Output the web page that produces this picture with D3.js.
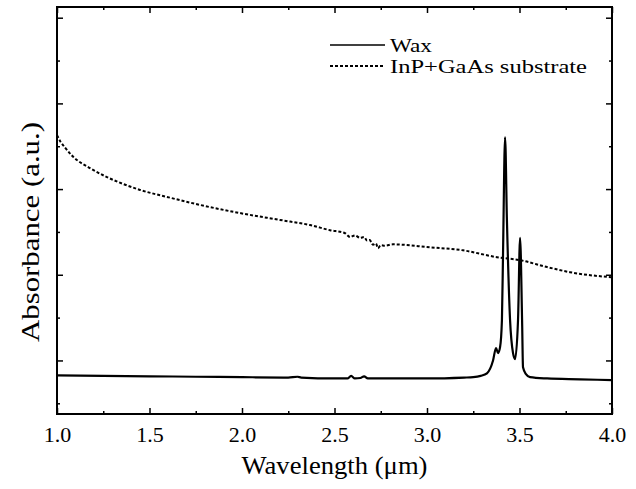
<!DOCTYPE html>
<html>
<head>
<meta charset="utf-8">
<script src="https://cdn.jsdelivr.net/npm/d3@7"></script>
<style>
  body { margin: 0; background: #fff; }
  svg { display: block; }
</style>
</head>
<body>
<div id="chart"></div>
<script>
// values (arbitrary absorbance units, one y tick = 1)
const waxLambda = [1.0, 1.25, 1.5, 1.75, 2.0, 2.25, 2.3, 2.32, 2.5, 2.57, 2.59, 2.61, 2.64, 2.66, 2.68, 2.75, 3.0, 3.2, 3.25,
  3.29, 3.324, 3.357, 3.373, 3.384, 3.395, 3.405, 3.411, 3.422, 3.432, 3.449, 3.465, 3.476, 3.492, 3.503, 3.514, 3.519,
  3.535, 3.557, 3.649, 3.827, 4.0];
const waxAbs = [0.65, 0.64, 0.63, 0.62, 0.61, 0.6, 0.62, 0.6, 0.58, 0.58, 0.64, 0.58, 0.59, 0.63, 0.58, 0.58, 0.58, 0.6, 0.61,
  0.64, 0.70, 1.0, 1.29, 1.17, 1.31, 1.94, 3.5, 6.21, 4.28, 1.94, 1.17, 1.03, 1.94, 3.86, 1.94, 0.84,
  0.68, 0.61, 0.58, 0.56, 0.54];

const subLambda = [1.0, 1.02, 1.043, 1.086, 1.178, 1.27, 1.357, 1.449, 1.61, 1.773, 1.989, 2.205, 2.368, 2.476, 2.557,
  2.584, 2.611, 2.638, 2.66, 2.676, 2.69, 2.708, 2.724, 2.735, 2.75, 2.773, 2.816, 3.016, 3.195, 3.378, 3.503,
  3.649, 3.773, 4.0];
const subAbs = [6.26, 6.1, 5.97, 5.76, 5.49, 5.28, 5.12, 4.98, 4.8, 4.63, 4.44, 4.28, 4.16, 4.04, 3.97,
  3.88, 3.92, 3.86, 3.88, 3.8, 3.81, 3.7, 3.73, 3.62, 3.69, 3.68, 3.71, 3.64, 3.57, 3.41, 3.34,
  3.18, 3.06, 2.94];

const xTicks = [1.0, 1.5, 2.0, 2.5, 3.0, 3.5, 4.0];
const legendLabels = ["Wax", "InP+GaAs substrate"];

const serif = "'Liberation Serif', 'Times New Roman', 'DejaVu Serif', serif";
const width = 636, height = 489;
const margin = {top: 7, right: 24, bottom: 75, left: 57};

const svg = d3.select("#chart").append("svg")
    .attr("width", width)
    .attr("height", height)
    .style("font-family", serif);

const x = d3.scaleLinear().domain([1, 4]).range([margin.left, width - margin.right]);
const y = d3.scaleLinear().domain([-0.25, 9.25]).range([height - margin.bottom, margin.top]);

const yMajor = [9, 7, 5, 3, 1];
const yMinor = [8, 6, 4, 2, 0];
const xMinor = d3.range(1.25, 4, 0.5);

// ticks, all pointing inwards on the four sides
function axes(g) {
  const bottom = y.range()[0], top = y.range()[1];
  const left = x.range()[0], right = x.range()[1];

  g.append("g")
      .attr("transform", `translate(0,${bottom})`)
      .call(d3.axisBottom(x).tickValues(xTicks).tickFormat(d3.format(".1f")).tickSizeInner(-6).tickSizeOuter(0))
      .attr("font-family", null)
      .attr("font-size", null)
      .call(a => a.selectAll("text")
          .attr("y", 7)
          .attr("dy", "0.95em")
          .style("font-family", serif)
          .style("font-size", "22px"));
  g.append("g")
      .attr("transform", `translate(0,${bottom})`)
      .call(d3.axisBottom(x).tickValues(xMinor).tickFormat("").tickSizeInner(-3).tickSizeOuter(0));
  g.append("g")
      .attr("transform", `translate(0,${top})`)
      .call(d3.axisTop(x).tickValues(xTicks).tickFormat("").tickSizeInner(-6).tickSizeOuter(0));
  g.append("g")
      .attr("transform", `translate(0,${top})`)
      .call(d3.axisTop(x).tickValues(xMinor).tickFormat("").tickSizeInner(-3).tickSizeOuter(0));

  g.append("g")
      .attr("transform", `translate(${left},0)`)
      .call(d3.axisLeft(y).tickValues(yMajor).tickFormat("").tickSizeInner(-6).tickSizeOuter(0));
  g.append("g")
      .attr("transform", `translate(${left},0)`)
      .call(d3.axisLeft(y).tickValues(yMinor).tickFormat("").tickSizeInner(-3).tickSizeOuter(0));
  g.append("g")
      .attr("transform", `translate(${right},0)`)
      .call(d3.axisRight(y).tickValues(yMajor).tickFormat("").tickSizeInner(-6).tickSizeOuter(0));
  g.append("g")
      .attr("transform", `translate(${right},0)`)
      .call(d3.axisRight(y).tickValues(yMinor).tickFormat("").tickSizeInner(-3).tickSizeOuter(0));

  g.selectAll(".domain").remove();
  g.selectAll(".tick line").attr("stroke", "#000").attr("stroke-width", 1.5);
}

const line = d3.line()
    .x(d => x(d[0]))
    .y(d => y(d[1]))
    .curve(d3.curveMonotoneX);

const subData = subLambda.map((l, i) => [l, subAbs[i]]);
const waxData = waxLambda.map((l, i) => [l, waxAbs[i]]);

svg.append("path")
    .datum(subData)
    .attr("fill", "none")
    .attr("stroke", "#000")
    .attr("stroke-width", 2)
    .attr("stroke-dasharray", "3,2")
    .attr("d", line);

svg.append("path")
    .datum(waxData)
    .attr("fill", "none")
    .attr("stroke", "#000")
    .attr("stroke-width", 2.2)
    .attr("stroke-linejoin", "round")
    .attr("d", line);

svg.append("g").call(axes);

// frame
svg.append("rect")
    .attr("x", x.range()[0])
    .attr("y", y.range()[1])
    .attr("width", x.range()[1] - x.range()[0])
    .attr("height", y.range()[0] - y.range()[1])
    .attr("fill", "none")
    .attr("stroke", "#000")
    .attr("stroke-width", 2);

// legend
const legend = svg.append("g").attr("transform", "translate(330,45)");
legend.selectAll("line")
  .data(legendLabels)
  .join("line")
    .attr("x1", 0).attr("x2", 55)
    .attr("y1", (d, i) => i * 21).attr("y2", (d, i) => i * 21)
    .attr("stroke", "#000")
    .attr("stroke-width", (d, i) => i === 0 ? 1.5 : 2)
    .attr("stroke-dasharray", (d, i) => i === 0 ? null : "3,2");
legend.selectAll("text")
  .data(legendLabels)
  .join("text")
    .attr("x", 60)
    .attr("y", (d, i) => i * 21 + 7)
    .attr("textLength", (d, i) => i === 0 ? 42 : 197)
    .attr("lengthAdjust", "spacingAndGlyphs")
    .style("font-size", "19px")
    .text(d => d);

// axis titles
svg.append("text")
    .attr("x", (x.range()[0] + x.range()[1]) / 2)
    .attr("y", 474)
    .attr("text-anchor", "middle")
    .attr("textLength", 186)
    .attr("lengthAdjust", "spacingAndGlyphs")
    .style("font-size", "26px")
    .text("Wavelength (\u03bcm)");

svg.append("text")
    .attr("transform", `translate(39,232) rotate(-90)`)
    .attr("text-anchor", "middle")
    .attr("textLength", 220)
    .attr("lengthAdjust", "spacingAndGlyphs")
    .style("font-size", "26px")
    .text("Absorbance (a.u.)");
</script>
</body>
</html>
